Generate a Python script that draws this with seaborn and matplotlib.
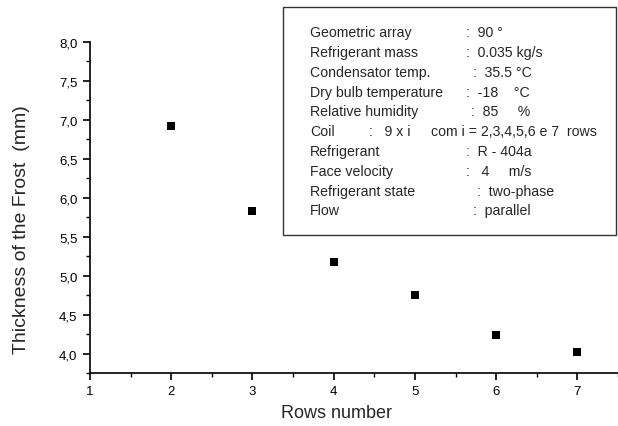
import matplotlib
matplotlib.use("Agg")
import matplotlib.pyplot as plt
import seaborn as sns
import pandas as pd
from matplotlib.ticker import MultipleLocator, FuncFormatter
from matplotlib.patches import Rectangle

rows = [2, 3, 4, 5, 6, 7]
thickness = [6.92, 5.83, 5.18, 4.75, 4.24, 4.02]

info_labels = ["Geometric array", "Refrigerant mass", "Condensator temp.",
               "Dry bulb temperature", "Relative humidity", "Coil",
               "Refrigerant", "Face velocity", "Refrigerant state", "Flow"]
info_values = [":  90 °", ":  0.035 kg/s", ":  35.5 °C", ":  -18    °C",
               ":  85     %", ":   9 x i", ":  R - 404a", ":   4     m/s",
               ":  two-phase", ":  parallel"]
info_value_x = [466, 466, 473, 466, 471, 369, 466, 466, 477, 473]
coil_extra = "com i = 2,3,4,5,6 e 7  rows"

sns.set_theme(style="ticks")
plt.rcParams['font.family'] = ['Liberation Sans', 'DejaVu Sans']

W, H = 618, 427
fig = plt.figure(figsize=(W / 100, H / 100), dpi=100)
ax = fig.add_axes([90 / W, 1 - 374 / H, (618 - 90) / W, (374 - 42.7) / H])

df = pd.DataFrame({"rows": rows, "thickness": thickness})
sns.scatterplot(data=df, x="rows", y="thickness", marker="s", s=38,
                color="black", linewidth=0, ax=ax)

ax.set_xlim(1, 7.5)
ax.set_ylim(3.75, 8.0)
ax.xaxis.set_major_locator(MultipleLocator(1))
ax.xaxis.set_minor_locator(MultipleLocator(0.5))
ax.yaxis.set_major_locator(MultipleLocator(0.5))
ax.yaxis.set_minor_locator(MultipleLocator(0.25))
ax.yaxis.set_major_formatter(FuncFormatter(lambda v, p: f"{v:.1f}".replace(".", ",")))
ax.xaxis.set_major_formatter(FuncFormatter(lambda v, p: f"{int(round(v))}"))

for s in ["top", "right"]:
    ax.spines[s].set_visible(False)
for s in ["left", "bottom"]:
    ax.spines[s].set_linewidth(1.2)
    ax.spines[s].set_color("black")
ax.tick_params(which="major", direction="out", length=5, width=1.2,
               labelsize=9.5, colors="black", pad=4)
ax.tick_params(which="minor", direction="out", length=3, width=1.0, colors="black")
ax.grid(False)

ax.set_xlabel("Rows number", fontsize=13)
ax.set_ylabel("Thickness of the Frost  (mm)", fontsize=14)
ax.xaxis.set_label_coords(0.466, -0.094)
ax.yaxis.set_label_coords(-0.114, 0.435)

# info box
bx0, by0, bx1, by1 = 283, 8, 616, 236
fig.patches.append(Rectangle((bx0 / W, 1 - by1 / H), (bx1 - bx0) / W, (by1 - by0) / H,
                             transform=fig.transFigure, facecolor="white",
                             edgecolor="#333333", linewidth=1.0, zorder=5))
fs = 10.2
for i, (lab, val, vx) in enumerate(zip(info_labels, info_values, info_value_x)):
    y = 1 - (33.3 + 19.8 * i) / H
    fig.text(310 / W, y, lab, fontsize=fs, va="center", ha="left", zorder=6)
    fig.text(vx / W, y, val, fontsize=fs, va="center", ha="left", zorder=6)
    if lab == "Coil":
        fig.text(431 / W, y, coil_extra, fontsize=fs, va="center", ha="left", zorder=6)

fig.savefig("out.png", dpi=100)
